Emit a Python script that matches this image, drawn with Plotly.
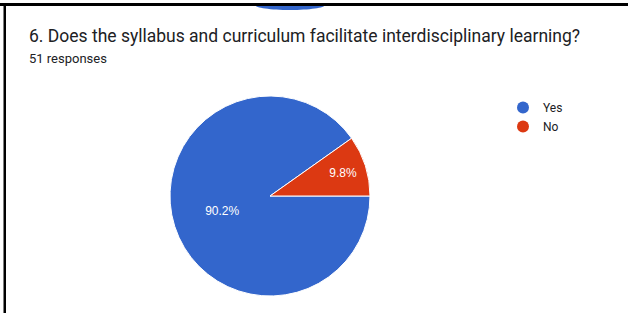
import plotly.graph_objects as go

labels = ["Yes", "No"]
values = [46, 5]
colors = ["#3366cc", "#dc3912"]
title_text = "6. Does the syllabus and curriculum facilitate interdisciplinary learning?"
subtitle_text = "51 responses"

W, H = 628, 313
def px(x):
    return x / W
def py(y):
    return 1 - y / H

fig = go.Figure()
fig.add_trace(go.Pie(
    labels=labels, values=values, sort=False, direction="clockwise", rotation=90,
    marker=dict(colors=colors, line=dict(color="white", width=1)),
    textinfo="percent", texttemplate="%{percent:.1%}", textposition="inside",
    insidetextorientation="horizontal",
    textfont=dict(color="white", size=12, family="Arial"),
    showlegend=False, hoverinfo="label+percent",
    domain=dict(x=[px(170), px(370)], y=[py(296), py(96)]),
))
for lab, col in zip(labels, colors):
    fig.add_trace(go.Scatter(x=[None], y=[None], mode="markers", name=lab,
                             marker=dict(color=col, size=12, symbol="circle")))

# half-ellipse blob under the top border (cubic bezier, paper coords)
k = 0.5523
cx, cy, rx, ry = 290, 5, 35, 5
blob = (f"M {px(cx-rx)},{py(cy)} "
        f"C {px(cx-rx)},{py(cy+k*ry)} {px(cx-k*rx)},{py(cy+ry)} {px(cx)},{py(cy+ry)} "
        f"C {px(cx+k*rx)},{py(cy+ry)} {px(cx+rx)},{py(cy+k*ry)} {px(cx+rx)},{py(cy)} Z")

shapes = [
    dict(type="path", xref="paper", yref="paper", path=blob,
         fillcolor="#3366cc", line=dict(width=0), layer="above"),
    dict(type="rect", xref="paper", yref="paper", x0=0, x1=1, y0=py(6), y1=py(3),
         fillcolor="#000000", line=dict(width=0), layer="above"),
    dict(type="rect", xref="paper", yref="paper", x0=px(3.5), x1=px(6), y0=0, y1=py(3),
         fillcolor="#000000", line=dict(width=0), layer="above"),
]

fig.update_layout(
    width=W, height=H, margin=dict(l=0, r=0, t=0, b=0),
    paper_bgcolor="white", plot_bgcolor="white",
    xaxis=dict(visible=False), yaxis=dict(visible=False),
    shapes=shapes,
    legend=dict(x=px(503), y=py(93), xanchor="left", yanchor="top",
                font=dict(family="Roboto, Arial", size=12, color="#202124"),
                bgcolor="rgba(0,0,0,0)", tracegroupgap=0),
    annotations=[
        dict(text=title_text, x=px(27), y=py(24), xref="paper", yref="paper",
             xanchor="left", yanchor="top", showarrow=False,
             font=dict(family="Roboto, Arial", size=17.5, color="#202124")),
        dict(text=subtitle_text, x=px(27), y=py(49), xref="paper", yref="paper",
             xanchor="left", yanchor="top", showarrow=False,
             font=dict(family="Roboto, Arial", size=13, color="#202124")),
    ],
)
fig.write_html("out.html", config={"displayModeBar": False},
               post_script="document.body.style.margin='0';document.body.style.overflow='hidden';")
